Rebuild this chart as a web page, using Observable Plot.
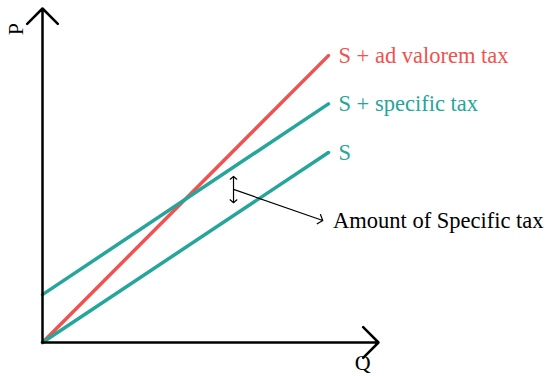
<!DOCTYPE html>
<html><head><meta charset="utf-8">
<script src="https://cdn.jsdelivr.net/npm/d3@7"></script>
<script src="https://cdn.jsdelivr.net/npm/@observablehq/plot@0.6"></script>
<style>body{margin:0;background:#fff;} svg{font-family:"Liberation Serif",serif;}</style>
</head><body><div id="chart"></div>
<script>
const quantity = [0, 5];
const supply = [0, 5];
const supplySpecific = [1.26, 6.28];
const supplyAdValorem = [0, 7.55];
const seriesNames = ["S + ad valorem tax", "S + specific tax", "S"];
const seriesColors = ["#f0524f", "#26a69a", "#26a69a"];
const annotation = "Amount of Specific tax";

const series = [supplyAdValorem, supplySpecific, supply];
const rows = series.flatMap((vals, i) => quantity.map((q, j) => ({q, p: vals[j], name: seriesNames[i]})));
const ends = series.map((vals, i) => ({q: quantity[1], p: vals[1], name: seriesNames[i], color: seriesColors[i]}));

const chart = Plot.plot({
  width: 553, height: 376,
  marginLeft: 42, marginRight: 175, marginTop: 8, marginBottom: 34,
  x: {domain: [0, 5.875], axis: null},
  y: {domain: [0, 8.79], axis: null},
  color: {domain: seriesNames, range: seriesColors},
  marks: [
    Plot.line(rows, {x: "q", y: "p", z: "name", stroke: "name", strokeWidth: 3.5}),
    Plot.arrow([{x1: 0, y1: 0, x2: 0, y2: 8.79}], {x1: "x1", y1: "y1", x2: "x2", y2: "y2", stroke: "black", strokeWidth: 2.5, headLength: 13, headAngle: 90}),
    Plot.arrow([{x1: 0, y1: 0, x2: 5.875, y2: 0}], {x1: "x1", y1: "y1", x2: "x2", y2: "y2", stroke: "black", strokeWidth: 2.5, headLength: 13, headAngle: 90}),
    Plot.text(ends, {x: "q", y: "p", text: "name", fill: "color", textAnchor: "start", dx: 10, fontSize: 22.5}),
    Plot.arrow([{x1: 3.34, y1: 4.03, x2: 3.34, y2: 4.37}, {x1: 3.34, y1: 4.03, x2: 3.34, y2: 3.68}], {x1: "x1", y1: "y1", x2: "x2", y2: "y2", stroke: "black", strokeWidth: 1.2, headLength: 8, headAngle: 100}),
    Plot.arrow([{x1: 3.34, y1: 4.03, x2: 4.9, y2: 3.21}], {x1: "x1", y1: "y1", x2: "x2", y2: "y2", stroke: "black", strokeWidth: 1.2, headLength: 8, headAngle: 100}),
    Plot.text([{x: 5.08, y: 3.21}], {x: "x", y: "y", text: () => annotation, textAnchor: "start", fill: "black", fontSize: 22.5}),
    Plot.text([{x: 5.6, y: 0}], {x: "x", y: "y", text: () => "Q", dy: 20, fill: "black", fontSize: 22}),
    Plot.text([{x: 0, y: 8.25}], {x: "x", y: "y", text: () => "P", dx: -27, rotate: -90, fill: "black", fontSize: 22})
  ]
});
document.getElementById("chart").append(chart);
</script></body></html>
